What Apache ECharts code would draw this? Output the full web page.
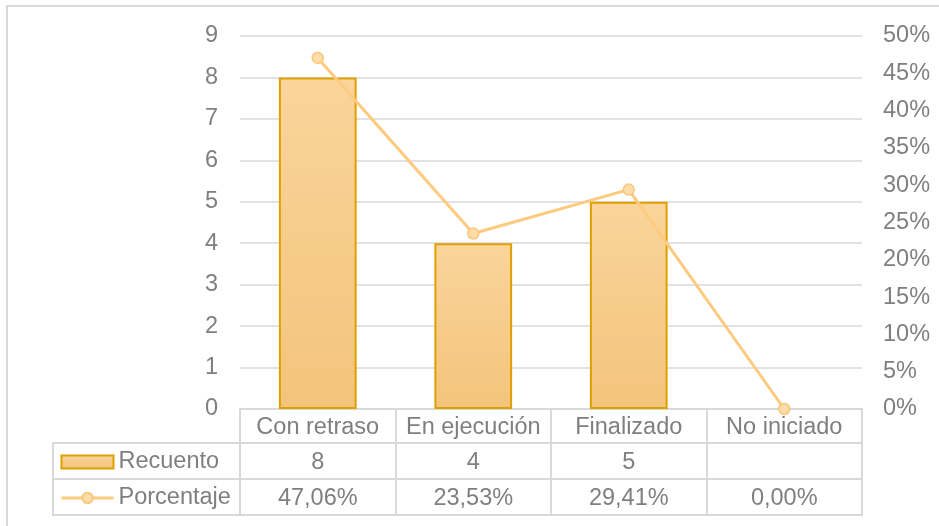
<!DOCTYPE html>
<html>
<head>
<meta charset="utf-8">
<script src="https://cdn.jsdelivr.net/npm/echarts@6/dist/echarts.min.js"></script>
<style>
html,body{margin:0;padding:0;background:#fff;}
#chart{width:939px;height:526px;}
</style>
</head>
<body>
<div id="chart"></div>
<script>
// ---- data ----
const categories = ['Con retraso', 'En ejecución', 'Finalizado', 'No iniciado'];
const recuento = [8, 4, 5, null];
const porcentaje = [47.06, 23.53, 29.41, 0.00];
const seriesNames = ['Recuento', 'Porcentaje'];

// ---- styles ----
const FONT = "'Liberation Sans', Arial, sans-serif";
const TXT = '#7f7f7f';
const GRID = '#d9d9d9';
const FS = 23.5;
const LINE_COLOR = '#fdca7e';

function fmtPct(v) {
  if (v === null || v === undefined) return '';
  return v.toFixed(2).replace('.', ',') + '%';
}

const chart = echarts.init(document.getElementById('chart'), null, {renderer: 'canvas'});

const tableAxisBase = {
  type: 'category',
  data: categories,
  position: 'bottom',
  gridIndex: 0,
  axisLine: {show: true, onZero: false, lineStyle: {color: GRID, width: 2}},
  axisTick: {show: false},
  splitLine: {show: false}
};

const option = {
  animation: false,
  backgroundColor: '#fff',
  textStyle: {fontFamily: FONT},
  grid: {left: 240, right: 77, top: 36, bottom: 117, containLabel: false},
  legend: {
    data: [
      {name: seriesNames[0], icon: 'rect'},
      {name: seriesNames[1], lineStyle: {width: 3, color: LINE_COLOR}}
    ],
    orient: 'vertical',
    left: 60,
    top: 449,
    padding: 0,
    itemWidth: 52,
    itemHeight: 13,
    itemGap: 10,
    textStyle: {fontSize: FS, color: TXT, fontFamily: FONT, lineHeight: 26},
    selectedMode: false
  },
  xAxis: [
    Object.assign({}, tableAxisBase, {
      axisTick: {show: true, interval: 0, length: 106, lineStyle: {color: GRID, width: 2}},
      axisLabel: {interval: 0, margin: 2, fontSize: FS, color: TXT, fontFamily: FONT, lineHeight: 34}
    }),
    Object.assign({}, tableAxisBase, {
      offset: 34,
      axisLabel: {interval: 0, margin: 2, fontSize: FS, color: TXT, fontFamily: FONT, lineHeight: 36,
        formatter: (v, i) => (recuento[i] === null ? '' : String(recuento[i]))}
    }),
    Object.assign({}, tableAxisBase, {
      offset: 70,
      axisLabel: {interval: 0, margin: 2, fontSize: FS, color: TXT, fontFamily: FONT, lineHeight: 36,
        formatter: (v, i) => fmtPct(porcentaje[i])}
    }),
    Object.assign({}, tableAxisBase, {
      offset: 106,
      axisLabel: {show: false}
    })
  ],
  yAxis: [
    {
      type: 'value', min: 0, max: 9, interval: 1, position: 'left',
      axisLine: {show: false}, axisTick: {show: false},
      axisLabel: {margin: 22, fontSize: FS, color: TXT, fontFamily: FONT, padding: [4, 0, 0, 0]},
      splitLine: {show: true, lineStyle: {color: GRID, width: 1.5}}
    },
    {
      type: 'value', min: 0, max: 50, interval: 5, position: 'right',
      axisLine: {show: false}, axisTick: {show: false},
      axisLabel: {margin: 21, fontSize: FS, color: TXT, fontFamily: FONT, formatter: '{value}%', padding: [4, 0, 0, 0]},
      splitLine: {show: false}
    }
  ],
  series: [
    {
      name: seriesNames[0],
      type: 'bar',
      xAxisIndex: 0,
      yAxisIndex: 0,
      data: recuento,
      barWidth: '50%',
      itemStyle: {
        color: new echarts.graphic.LinearGradient(0, 0, 0, 1, [
          {offset: 0, color: '#fad49b'},
          {offset: 1, color: '#f3c47b'}
        ]),
        borderColor: '#dda000',
        borderWidth: 2
      }
    },
    {
      name: seriesNames[1],
      type: 'line',
      xAxisIndex: 0,
      yAxisIndex: 1,
      data: porcentaje,
      symbol: 'circle',
      symbolSize: 11,
      lineStyle: {color: LINE_COLOR, width: 3},
      itemStyle: {color: '#fcdca8', borderColor: '#f9c77a', borderWidth: 1.5}
    }
  ],
  graphic: [
    {type: 'rect', shape: {x: 7, y: 6, width: 960, height: 560}, style: {fill: 'none', stroke: GRID, lineWidth: 2}, silent: true, z: -1},
    {type: 'rect', shape: {x: 53, y: 443, width: 187, height: 72}, style: {fill: 'none', stroke: GRID, lineWidth: 2}, silent: true, z: -1},
    {type: 'line', shape: {x1: 53, y1: 479, x2: 240, y2: 479}, style: {stroke: GRID, lineWidth: 2}, silent: true, z: -1}
  ]
};

chart.setOption(option);
</script>
</body>
</html>
